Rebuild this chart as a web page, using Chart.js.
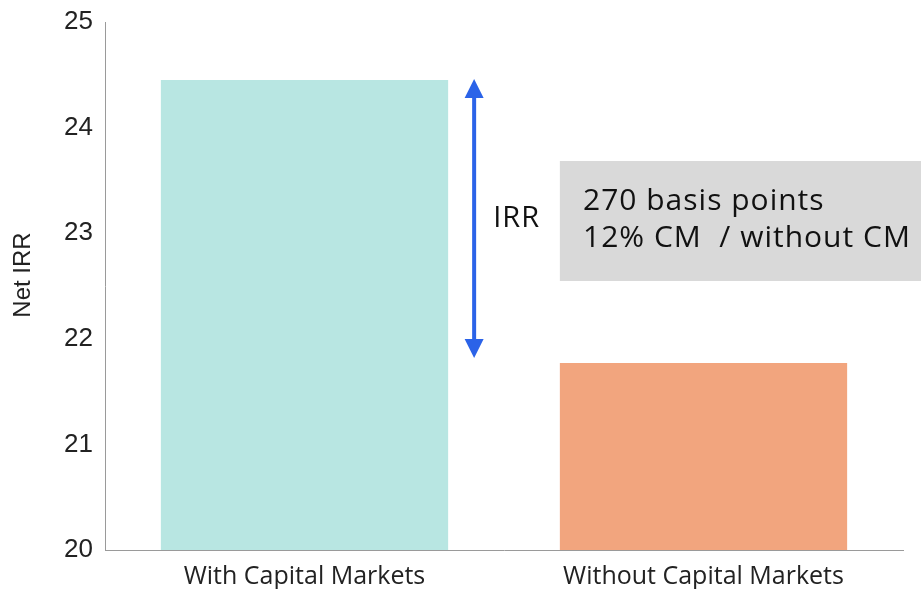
<!DOCTYPE html>
<html>
<head>
<meta charset="utf-8">
<script src="https://cdn.jsdelivr.net/npm/chart.js@4.4.1/dist/chart.umd.min.js"></script>
<style>
  html, body { margin: 0; padding: 0; background: #ffffff; }
  #wrap { width: 921px; height: 589px; }
</style>
</head>
<body>
<div id="wrap"><canvas id="c" width="921" height="589"></canvas></div>
<script>
const categories = ['With Capital Markets', 'Without Capital Markets'];
const netIrr = [24.45, 21.77];
const barColors = ['#B8E6E2', '#F2A57E'];
const yTicks = [20, 21, 22, 23, 24, 25];
const yTitle = 'Net IRR';
const arrowLabel = 'IRR';
const noteLines = ['270 basis points', '12% CM  / without CM'];

const annotations = {
  id: 'annotations',
  afterDatasetsDraw(chart) {
    const ctx = chart.ctx;
    const meta = chart.getDatasetMeta(0);
    const b1 = meta.data[0], b2 = meta.data[1];
    ctx.save();
    // y-axis title
    ctx.fillStyle = '#222';
    ctx.font = '24px "Liberation Sans", Arial, sans-serif';
    ctx.textAlign = 'center';
    ctx.textBaseline = 'middle';
    ctx.translate(23, 275);
    ctx.rotate(-Math.PI / 2);
    ctx.fillText(yTitle, 0, 0);
    ctx.restore();

    // arrow between the two bar tops
    ctx.save();
    const ax = b1.x + b1.width / 2 + 26;
    const yTop = b1.y - 1;
    const yBot = b2.y - 5;
    const head = 19, hw = 9.5;
    ctx.strokeStyle = '#2B63E8';
    ctx.fillStyle = '#2B63E8';
    ctx.lineWidth = 4;
    ctx.beginPath();
    ctx.moveTo(ax, yTop + head - 2);
    ctx.lineTo(ax, yBot - head + 2);
    ctx.stroke();
    ctx.beginPath();
    ctx.moveTo(ax, yTop);
    ctx.lineTo(ax + hw, yTop + head);
    ctx.lineTo(ax - hw, yTop + head);
    ctx.closePath();
    ctx.fill();
    ctx.beginPath();
    ctx.moveTo(ax, yBot);
    ctx.lineTo(ax + hw, yBot - head);
    ctx.lineTo(ax - hw, yBot - head);
    ctx.closePath();
    ctx.fill();

    // arrow label
    ctx.fillStyle = '#111';
    ctx.font = '29px "Open Sans", sans-serif';
    ctx.textAlign = 'left';
    ctx.textBaseline = 'middle';
    if ('letterSpacing' in ctx) ctx.letterSpacing = '1px';
    ctx.fillText(arrowLabel, ax + 19, (yTop + yBot) / 2);

    // grey note box
    const bx = b2.x - b2.width / 2;
    ctx.fillStyle = '#D9D9D9';
    ctx.fillRect(bx, 161, chart.width - bx, 120);
    ctx.fillStyle = '#111';
    ctx.font = '30px "Open Sans", sans-serif';
    ctx.textBaseline = 'alphabetic';
    if ('letterSpacing' in ctx) ctx.letterSpacing = '1px';
    ctx.fillText(noteLines[0], 583, 210);
    ctx.fillText(noteLines[1], 583, 247);
    ctx.restore();
  }
};

new Chart(document.getElementById('c'), {
  type: 'bar',
  data: {
    labels: categories,
    datasets: [{
      data: netIrr,
      backgroundColor: barColors,
      borderWidth: 0,
      barPercentage: 0.72,
      categoryPercentage: 1.0
    }]
  },
  options: {
    responsive: false,
    devicePixelRatio: 1,
    animation: false,
    layout: { padding: { top: 0, right: 18, left: 0, bottom: 0 } },
    plugins: { legend: { display: false }, tooltip: { enabled: false } },
    scales: {
      x: {
        grid: { display: false, drawTicks: false },
        border: { display: true, color: '#9a9a9a', width: 1 },
        ticks: {
          color: '#222',
          font: { family: '"Open Sans", sans-serif', size: 25 },
          padding: 12,
          maxRotation: 0
        },
        afterFit(scale) { scale.height = 39; }
      },
      y: {
        min: yTicks[0],
        max: yTicks[yTicks.length - 1],
        afterBuildTicks(scale) { scale.ticks = yTicks.map(v => ({ value: v })); },
        grid: { display: false, drawTicks: false },
        border: { display: true, color: '#9a9a9a', width: 1 },
        ticks: {
          color: '#222',
          font: { family: '"Liberation Sans", Arial, sans-serif', size: 26 },
          padding: 12
        },
        afterFit(scale) { scale.width = 105; scale.paddingTop = 22; scale.paddingBottom = 0; }
      }
    }
  },
  plugins: [annotations]
});
</script>
</body>
</html>
